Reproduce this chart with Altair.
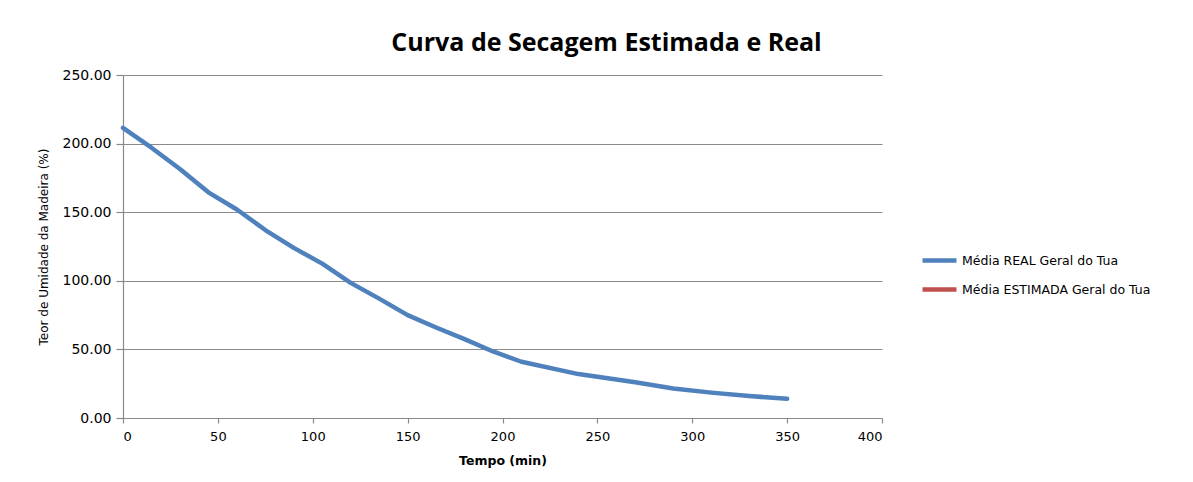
import altair as alt
import pandas as pd

# Data
tempo = [0, 15, 30, 45, 60, 75, 90, 105, 120, 135, 150, 165, 180, 195, 210, 240, 270, 290, 310, 330, 350]
real = [211.5, 197, 181.5, 164.5, 152, 137, 124, 112.5, 98.5, 87, 75, 66, 57.5, 48.5, 41, 32, 26, 21.5, 18.5, 16, 14]
series_names = ["Média REAL Geral do Tua", "Média ESTIMADA Geral do Tua"]
series_colors = ["#4F81BD", "#C0504D"]
x_ticks = [0, 50, 100, 150, 200, 250, 300, 350, 400]
y_ticks = [0, 50, 100, 150, 200, 250]

df = pd.DataFrame({"Tempo": tempo, "Teor": real, "Serie": series_names[0]})

FONT = "DejaVu Sans"
GRID = "#8A8A8A"

chart = alt.Chart(df).mark_line(strokeWidth=4.5, strokeCap="round", strokeJoin="round").encode(
    x=alt.X("Tempo:Q", title="Tempo (min)",
            scale=alt.Scale(domain=[0, 400], nice=False),
            axis=alt.Axis(values=x_ticks, grid=False, tickSize=5, labelPadding=7,
                          labelFontSize=13, titleFontSize=12.5, titleFontWeight="bold",
                          titlePadding=11)),
    y=alt.Y("Teor:Q", title="Teor de Umidade da Madeira (%)",
            scale=alt.Scale(domain=[0, 250], nice=False),
            axis=alt.Axis(values=y_ticks, format=".2f", grid=True, tickSize=7, labelPadding=5,
                          labelFontSize=14, titleFontSize=12, titleFontWeight="normal",
                          titlePadding=12)),
    color=alt.Color("Serie:N", title=None,
                    scale=alt.Scale(domain=series_names, range=series_colors),
                    legend=alt.Legend(orient="none", legendX=797, legendY=166,
                                      symbolType="stroke", symbolSize=1156, symbolStrokeWidth=4.5,
                                      labelFontSize=12.5, labelOffset=3, rowPadding=-8, labelLimit=0,
                                      labelFont=FONT, labelColor="#000000")),
).properties(
    width=759,
    height=343,
    background="white",
    title=alt.TitleParams("Curva de Secagem Estimada e Real", fontSize=25, font="Open Sans",
                          fontWeight="bold", anchor="middle", dx=104, dy=-8, color="#000000"),
    autosize=alt.AutoSizeParams(type="none"),
    padding={"left": 115, "top": 67, "right": 303, "bottom": 56},
).configure_view(
    strokeWidth=0
).configure_axis(
    domainColor=GRID, tickColor=GRID, gridColor=GRID, gridWidth=1, domainWidth=1.2, tickWidth=1.2,
    labelFont=FONT, titleFont=FONT, labelColor="#000000", titleColor="#000000",
)

chart.save("out.html", embed_options={"renderer": "svg", "actions": False})
